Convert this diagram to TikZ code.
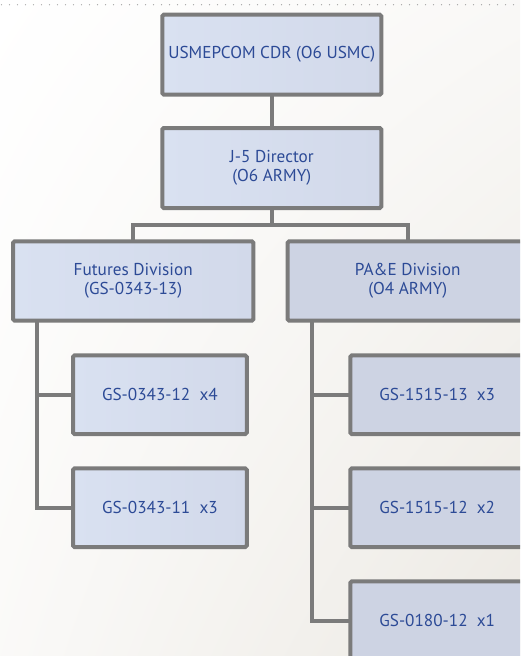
\documentclass[tikz,border=0pt]{standalone}
\usepackage{fontspec}
\setmainfont{PT Sans}
\usetikzlibrary{shadings}
\definecolor{txtblue}{HTML}{2C4A96}
\definecolor{edgegray}{HTML}{7B7B7B}
\definecolor{boxA}{HTML}{D9E1F1}
\definecolor{boxB}{HTML}{D2D9EA}
\definecolor{boxR}{HTML}{CDD3E3}
\definecolor{bgB}{HTML}{ECE9E3}
\begin{document}
\begin{tikzpicture}[x=1pt,y=-1pt,
  box/.style={draw=edgegray, line width=4pt, rounded corners=1.5pt, outer sep=0pt,
    inner sep=0pt, align=center, text=txtblue,
    font=\fontsize{17.2}{19}\selectfont},
  leftbox/.style={box, left color=boxA, right color=boxB},
  rightbox/.style={box, fill=boxR},
  conn/.style={draw=edgegray, line width=4pt}]
\useasboundingbox (0,0) rectangle (520,656);
\clip (0,0) rectangle (520,656);
\shade[upper left=white, upper right=white!70!bgB, lower left=white!75!bgB, lower right=bgB] (0,0) rectangle (520,656);
\draw[gray!70, line width=1.4pt, line cap=round, dash pattern=on 0pt off 8pt] (1.5,4.7) -- (520,4.7);

\node[leftbox, minimum width=219pt, minimum height=80pt] (top) at (271.8,54.7) {USMEPCOM CDR (O6 USMC)};
\node[leftbox, minimum width=219pt, minimum height=80pt] (j5) at (271.8,168) {J-5 Director\\(O6 ARMY)};
\node[leftbox, minimum width=240.3pt, minimum height=79.4pt] (fut) at (133.2,281) {Futures Division\\(GS-0343-13)};
\node[rightbox, minimum width=240.3pt, minimum height=79.4pt] (pae) at (407.8,281) {PA\&E Division\\(O4 ARMY)};
\node[leftbox, minimum width=173.7pt, minimum height=78.7pt] (f1) at (159.9,394.7) {GS-0343-12~~x4};
\node[leftbox, minimum width=173.7pt, minimum height=78.7pt] (f2) at (159.9,507.7) {GS-0343-11~~x3};
\node[rightbox, minimum width=173.7pt, minimum height=78.7pt] (p1) at (437.2,394.7) {GS-1515-13~~x3};
\node[rightbox, minimum width=173.7pt, minimum height=78.7pt] (p2) at (437.2,507.7) {GS-1515-12~~x2};
\node[rightbox, minimum width=173.7pt, minimum height=78.7pt] (p3) at (437.2,620.7) {GS-0180-12~~x1};

\coordinate (bar) at (271.8,224.7);
\coordinate (sL) at ([xshift=24pt]fut.south west);
\coordinate (sR) at ([xshift=24pt]pae.south west);

\draw[conn] (top.south) -- (j5.north);
\draw[conn] (j5.south) -- (bar);
\draw[conn] (fut.north) |- (bar) -| (pae.north);
\draw[conn] (sL) |- (f2.west);
\draw[conn] (sL |- f1.west) -- (f1.west);
\draw[conn] (sR) |- (p3.west);
\draw[conn] (sR |- p1.west) -- (p1.west);
\draw[conn] (sR |- p2.west) -- (p2.west);
\end{tikzpicture}
\end{document}
